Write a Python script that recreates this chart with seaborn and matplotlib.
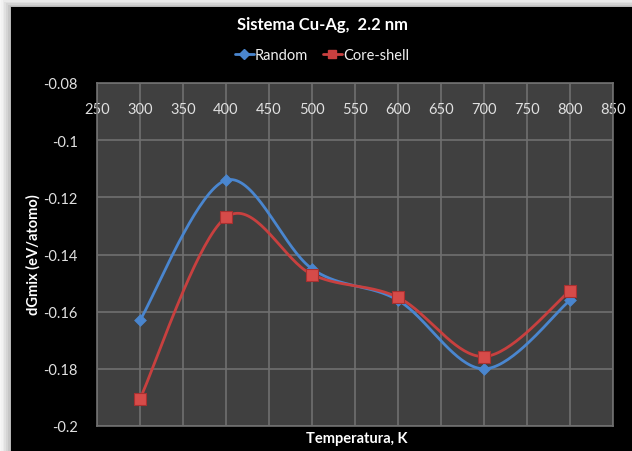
import numpy as np
import pandas as pd
import matplotlib
matplotlib.use("Agg")
import matplotlib.pyplot as plt
from matplotlib.patches import Rectangle
from matplotlib.lines import Line2D
import seaborn as sns

# ---- data ----
temperatures = [300, 400, 500, 600, 700, 800]
random_vals = [-0.163, -0.114, -0.145, -0.156, -0.180, -0.156]
coreshell_vals = [-0.1905, -0.127, -0.147, -0.155, -0.1757, -0.1527]
series_names = ["Random", "Core-shell"]
x_ticks = [250, 300, 350, 400, 450, 500, 550, 600, 650, 700, 750, 800, 850]
y_ticks = [-0.2, -0.18, -0.16, -0.14, -0.12, -0.1, -0.08]
y_tick_labels = ["-0.2", "-0.18", "-0.16", "-0.14", "-0.12", "-0.1", "-0.08"]
title = "Sistema Cu-Ag,  2.2 nm"
x_label = "Temperatura, K"
y_label = "dGmix (eV/atomo)"

BLUE = "#4a86cf"
RED = "#c8403f"


def smooth(xs, ys, n=40):
    """Excel-like smoothed line (Catmull-Rom via cubic Bezier)."""
    P = np.column_stack([xs, ys]).astype(float)
    P = np.vstack([P[0], P, P[-1]])
    out = []
    t = np.linspace(0, 1, n)[:, None]
    for i in range(1, len(P) - 2):
        p0, p1, p2, p3 = P[i - 1], P[i], P[i + 1], P[i + 2]
        c1 = p1 + (p2 - p0) / 6
        c2 = p2 - (p3 - p1) / 6
        seg = ((1 - t) ** 3) * p1 + 3 * ((1 - t) ** 2) * t * c1 + 3 * (1 - t) * t ** 2 * c2 + t ** 3 * p2
        out.append(seg if i == 1 else seg[1:])
    out = np.vstack(out)
    return out[:, 0], out[:, 1]


sns.set_theme(style="dark")
plt.rcParams["font.family"] = ["Lato", "DejaVu Sans"]

fig = plt.figure(figsize=(6.32, 4.52), dpi=100)
fig.patch.set_facecolor("#f6f6f6")
# light shadow stripes at top/left then black chart area
shades = ["#f2f2f2", "#eaeaea", "#e0e0e0", "#d4d4d4", "#c6c6c6", "#b6b6b6"]
for i, c in enumerate(shades):
    fig.patches.append(Rectangle(((1 + 1.7 * i) / 632, 0), 1, (452 - 1.4 * i) / 452,
                                 transform=fig.transFigure, facecolor=c, edgecolor="none", zorder=-2))
fig.patches.append(Rectangle((11 / 632, 0), 1, (452 - 8) / 452, transform=fig.transFigure,
                             facecolor="black", edgecolor="none", zorder=-1))

ax = fig.add_axes([97 / 632, (452 - 427) / 452, (613 - 97) / 632, (427 - 84) / 452])
ax.set_zorder(2)
ax.set_facecolor("#404040")

sx, sy = smooth(temperatures, random_vals)
cx, cy = smooth(temperatures, coreshell_vals)
df_r = pd.DataFrame({"x": sx, "y": sy})
df_c = pd.DataFrame({"x": cx, "y": cy})
sns.lineplot(data=df_r, x="x", y="y", sort=False, color=BLUE, linewidth=2.0, ax=ax, zorder=3)
sns.lineplot(data=df_c, x="x", y="y", sort=False, color=RED, linewidth=2.0, ax=ax, zorder=3)
sns.scatterplot(x=temperatures, y=random_vals, marker="D", s=36, color=BLUE, edgecolor=BLUE,
                linewidth=0.5, ax=ax, zorder=4)
sns.scatterplot(x=temperatures, y=coreshell_vals, marker="s", s=64, color="#d64b49",
                edgecolor="#a83030", linewidth=0.8, ax=ax, zorder=5)

ax.set_xlim(250, 850)
ax.set_ylim(-0.2, -0.08)
ax.set_xticks(x_ticks)
ax.set_yticks(y_ticks)
ax.set_yticklabels(y_tick_labels)
ax.xaxis.tick_top()
ax.tick_params(axis="x", length=0, pad=-24, labelsize=10.5, colors="#e0e0e0")
ax.tick_params(axis="y", length=0, pad=14, labelsize=10.5, colors="#e0e0e0")
ax.grid(True, color="#707070", linewidth=1.2)
for s in ax.spines.values():
    s.set_color("#707070")
    s.set_linewidth(1.2)

ax.set_xlabel("")
ax.set_ylabel("")
fig.text(357 / 632, 1 - 439 / 452, x_label, color="white", fontsize=10.5, fontweight="bold",
         ha="center", va="center")
fig.text(33 / 632, 1 - 255 / 452, y_label, color="white", fontsize=10.5, fontweight="bold",
         ha="center", va="center", rotation=90)
fig.text(322 / 632, 1 - 25 / 452, title, color="white", fontsize=12, fontweight="bold",
         ha="center", va="center")

handles = [
    Line2D([], [], color=BLUE, marker="D", markersize=5, linewidth=2),
    Line2D([], [], color=RED, marker="s", markersize=6, linewidth=2),
]
leg = fig.legend(handles, series_names, loc="center", bbox_to_anchor=(322 / 632, 1 - 56 / 452),
                 ncol=2, frameon=False, fontsize=10.5, handlelength=1.3, handletextpad=0.1,
                 columnspacing=1.0, labelcolor="#f0f0f0")

fig.savefig("out.png", dpi=100, facecolor=fig.get_facecolor())
